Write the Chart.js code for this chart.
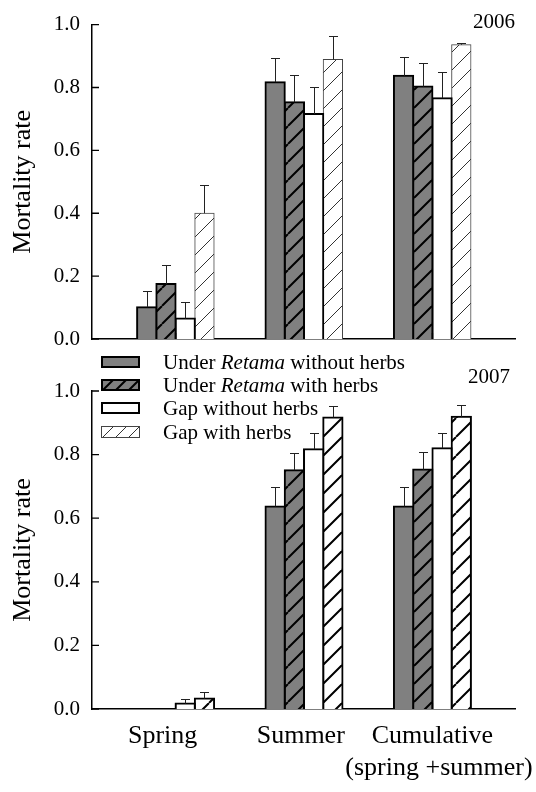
<!DOCTYPE html>
<html>
<head>
<meta charset="utf-8">
<title>Mortality rate 2006 / 2007</title>
<script src="https://cdn.jsdelivr.net/npm/chart.js@4.4.1/dist/chart.umd.min.js"></script>
<style>
	html, body { margin: 0; padding: 0; background: #fff; }
	#page { position: relative; width: 536px; height: 792px; overflow: hidden; font-family: 'Liberation Serif', 'Times New Roman', serif; color: #000; }
	#page canvas.chart { position: absolute; left: 0; top: 0; }
	#legend { position: absolute; left: 0; top: 0; z-index: 2; }
	.legend-row { position: absolute; left: 101px; width: 330px; height: 24px; line-height: 24px; font-size: 21px; white-space: nowrap; }
	.legend-row canvas { position: absolute; left: 0; top: 6px; }
	.legend-row span { position: absolute; left: 62px; top: 0; }
</style>
</head>
<body>
<div id="page">
	<canvas id="chart-2006" class="chart" width="536" height="792"></canvas>
	<canvas id="chart-2007" class="chart" width="536" height="792"></canvas>
	<div id="legend"></div>
</div>
<script>
// labels sit slightly off the group centres in the original, the no-break spaces nudge them
var categoryLabels = ["Spring\u00a0\u00a0\u00a0\u00a0", "Summer\u00a0", ["Cumulative", "\u00a0\u00a0(spring +summer)"]];
var treatmentLabels = ["Under Retama without herbs", "Under Retama with herbs", "Gap without herbs", "Gap with herbs"];

// 2006 mortality (mean) and upper error
var mean2006UnderBare = [0.101, 0.817, 0.837];
var mean2006UnderHerbs = [0.175, 0.753, 0.803];
var mean2006GapBare = [0.065, 0.716, 0.766];
var mean2006GapHerbs = [0.400, 0.889, 0.936];
var err2006UnderBare = [0.053, 0.076, 0.059];
var err2006UnderHerbs = [0.060, 0.088, 0.074];
var err2006GapBare = [0.053, 0.086, 0.082];
var err2006GapHerbs = [0.090, 0.076, 0.004];

// 2007
var mean2007UnderBare = [0, 0.637, 0.637];
var mean2007UnderHerbs = [0, 0.751, 0.753];
var mean2007GapBare = [0.017, 0.817, 0.820];
var mean2007GapHerbs = [0.033, 0.917, 0.919];
var err2007UnderBare = [0, 0.062, 0.062];
var err2007UnderHerbs = [0, 0.055, 0.054];
var err2007GapBare = [0.015, 0.050, 0.049];
var err2007GapHerbs = [0.022, 0.036, 0.036];

var GRAY = "#808080";
var SERIF = "'Liberation Serif', 'Times New Roman', serif";

Chart.defaults.font.family = SERIF;
Chart.defaults.color = "#000";

function makeHatch(bg, lineColor, lineWidth, size) {
	var tile = document.createElement("canvas");
	var c;
	
	tile.width = size;
	tile.height = size;
	c = tile.getContext("2d");
	c.fillStyle = bg;
	c.fillRect(0, 0, size, size);
	c.strokeStyle = lineColor;
	c.lineWidth = lineWidth;
	c.beginPath();
	for(var k = -1; k <= 1; k++) {
		c.moveTo(k * size, size);
		c.lineTo(k * size + size, 0);
	}
	c.stroke();
	
	return c.createPattern(tile, "repeat");
}

var errorBarPlugin = {
	id: "errorBars",
	afterDatasetsDraw: function(chart, args, opts) {
		var ctx = chart.ctx;
		var yScale = chart.scales.y;
		
		ctx.save();
		ctx.strokeStyle = opts.color;
		ctx.lineWidth = opts.width;
		chart.data.datasets.forEach(function(ds, i) {
			chart.getDatasetMeta(i).data.forEach(function(bar, j) {
				var err = ds.errors[j];
				var x = Math.round(bar.x) + 0.5;
				var yTop, yEnd;
				
				if(!err)
					return;
				
				yTop = yScale.getPixelForValue(ds.data[j].y);
				yEnd = Math.round(yScale.getPixelForValue(ds.data[j].y + err)) + 0.5;
				ctx.beginPath();
				ctx.moveTo(x, yTop);
				ctx.lineTo(x, yEnd);
				ctx.moveTo(x - opts.cap / 2, yEnd);
				ctx.lineTo(x + opts.cap / 2, yEnd);
				ctx.stroke();
			});
		});
		ctx.restore();
	}
};

// tick marks pointing into the plot, as in the original figure
var innerTicksPlugin = {
	id: "innerTicks",
	afterDatasetsDraw: function(chart, args, opts) {
		var ctx = chart.ctx;
		var area = chart.chartArea;
		
		ctx.save();
		ctx.strokeStyle = "#000";
		ctx.lineWidth = 1.3;
		ctx.beginPath();
		chart.scales.y.ticks.forEach(function(t) {
			var py = chart.scales.y.getPixelForValue(t.value);
			ctx.moveTo(area.left, py);
			ctx.lineTo(area.left + opts.yLength, py);
		});
		chart.scales.x.ticks.forEach(function(t) {
			var px = chart.scales.x.getPixelForValue(t.value);
			ctx.moveTo(px, area.bottom);
			ctx.lineTo(px, area.bottom - opts.xLength);
		});
		ctx.stroke();
		ctx.restore();
	}
};

var yearLabelPlugin = {
	id: "yearLabel",
	afterDraw: function(chart, args, opts) {
		var ctx = chart.ctx;
		
		ctx.save();
		ctx.font = "21px " + SERIF;
		ctx.fillStyle = "#000";
		ctx.textAlign = "right";
		ctx.textBaseline = "middle";
		ctx.fillText(opts.text, chart.chartArea.right + opts.dx, chart.chartArea.top + opts.dy);
		ctx.restore();
	}
};

function toPoints(values) {
	return values.map(function(v, i) { return {x: i, y: v}; });
}

function buildPanel(canvasId, means, errors, styles, opts) {
	var datasets = means.map(function(values, i) {
		return {
			label: treatmentLabels[i],
			data: toPoints(values),
			errors: errors[i],
			backgroundColor: styles[i].fill,
			borderColor: styles[i].border,
			borderWidth: styles[i].width,
			inflateAmount: function(c) { return c.parsed && c.parsed.y > 0 ? styles[i].width / 2 : 0; },
			barThickness: 19.25
		};
	});
	
	return new Chart(document.getElementById(canvasId), {
		type: "bar",
		data: {datasets: datasets},
		options: {
			responsive: false,
			animation: false,
			devicePixelRatio: 1,
			layout: {padding: {top: opts.top, right: 21, left: 0, bottom: 0}},
			scales: {
				x: {
					type: "linear",
					offset: false,
					min: -0.651,
					max: 2.643,
					grid: {display: false, drawTicks: false},
					border: {display: true, color: "#000", width: 1.5},
					afterBuildTicks: function(scale) {
						scale.ticks = categoryLabels.map(function(c, i) { return {value: i}; });
					},
					ticks: {
						display: opts.showCategories,
						autoSkip: false,
						minRotation: 0,
						maxRotation: 0,
						padding: 12,
						color: "#000",
						font: {size: 26, lineHeight: 1.2},
						callback: function(value, index) { return categoryLabels[index]; }
					},
					afterFit: function(scale) {
						scale.height = opts.xHeight;
						scale.paddingLeft = 0;
						scale.paddingRight = 0;
					}
				},
				y: {
					type: "linear",
					min: 0,
					max: 1,
					grid: {display: false, drawTicks: false},
					border: {display: true, color: "#000", width: 1.5},
					ticks: {
						stepSize: 0.2,
						padding: 12,
						color: "#000",
						font: {size: 21},
						callback: function(value) { return value.toFixed(1); }
					},
					title: {
						display: true,
						text: "Mortality rate",
						color: "#000",
						font: {size: 26},
						padding: {top: 8, bottom: 0}
					},
					afterFit: function(scale) { scale.width = 92; }
				}
			},
			plugins: {
				legend: {display: false},
				tooltip: {enabled: false},
				errorBars: {color: "#222", width: 1, cap: 9},
				innerTicks: {yLength: 7, xLength: 6},
				yearLabel: {text: opts.year, dx: opts.yearDx, dy: opts.yearDy}
			}
		},
		plugins: [errorBarPlugin, innerTicksPlugin, yearLabelPlugin]
	});
}

function darkStyles(lastStyle) {
	return [
		{fill: GRAY, border: "#000", width: 2},
		{fill: makeHatch(GRAY, "#000", 2, 18), border: "#000", width: 2},
		{fill: "#fff", border: "#000", width: 2},
		lastStyle
	];
}

function buildLegend() {
	var legend = document.getElementById("legend");
	var swatchStyles = [
		{fill: GRAY, border: "#000", width: 2},
		{fill: makeHatch(GRAY, "#000", 2, 13), border: "#000", width: 2},
		{fill: "#fff", border: "#000", width: 2},
		{fill: makeHatch("#fff", "#333", 1, 13), border: "#444", width: 1}
	];
	
	treatmentLabels.forEach(function(label, i) {
		var row = document.createElement("div");
		var swatch = document.createElement("canvas");
		var text = document.createElement("span");
		var parts = label.split("Retama");
		var c;
		
		row.className = "legend-row";
		row.style.top = (349.5 + i * 23.4) + "px";
		
		swatch.width = 39;
		swatch.height = 12;
		c = swatch.getContext("2d");
		c.fillStyle = swatchStyles[i].fill;
		c.fillRect(0, 0, 39, 12);
		c.strokeStyle = swatchStyles[i].border;
		c.lineWidth = swatchStyles[i].width;
		c.strokeRect(swatchStyles[i].width / 2, swatchStyles[i].width / 2, 39 - swatchStyles[i].width, 12 - swatchStyles[i].width);
		
		text.appendChild(document.createTextNode(parts[0]));
		if(parts.length > 1) {
			var it = document.createElement("i");
			it.innerText = "Retama";
			text.appendChild(it);
			text.appendChild(document.createTextNode(parts[1]));
		}
		
		row.appendChild(swatch);
		row.appendChild(text);
		legend.appendChild(row);
	});
}

window.onload = function() {
	buildPanel("chart-2006",
		[mean2006UnderBare, mean2006UnderHerbs, mean2006GapBare, mean2006GapHerbs],
		[err2006UnderBare, err2006UnderHerbs, err2006GapBare, err2006GapHerbs],
		darkStyles({fill: makeHatch("#fff", "#333", 1, 18), border: "#444", width: 1}),
		{top: 21, xHeight: 453, showCategories: false, year: "2006", yearDx: 0, yearDy: -2});
	
	buildPanel("chart-2007",
		[mean2007UnderBare, mean2007UnderHerbs, mean2007GapBare, mean2007GapHerbs],
		[err2007UnderBare, err2007UnderHerbs, err2007GapBare, err2007GapHerbs],
		darkStyles({fill: makeHatch("#fff", "#000", 2, 19), border: "#000", width: 2}),
		{top: 391, xHeight: 83, showCategories: true, year: "2007", yearDx: -5, yearDy: -14});
	
	buildLegend();
}
</script>
</body>
</html>
